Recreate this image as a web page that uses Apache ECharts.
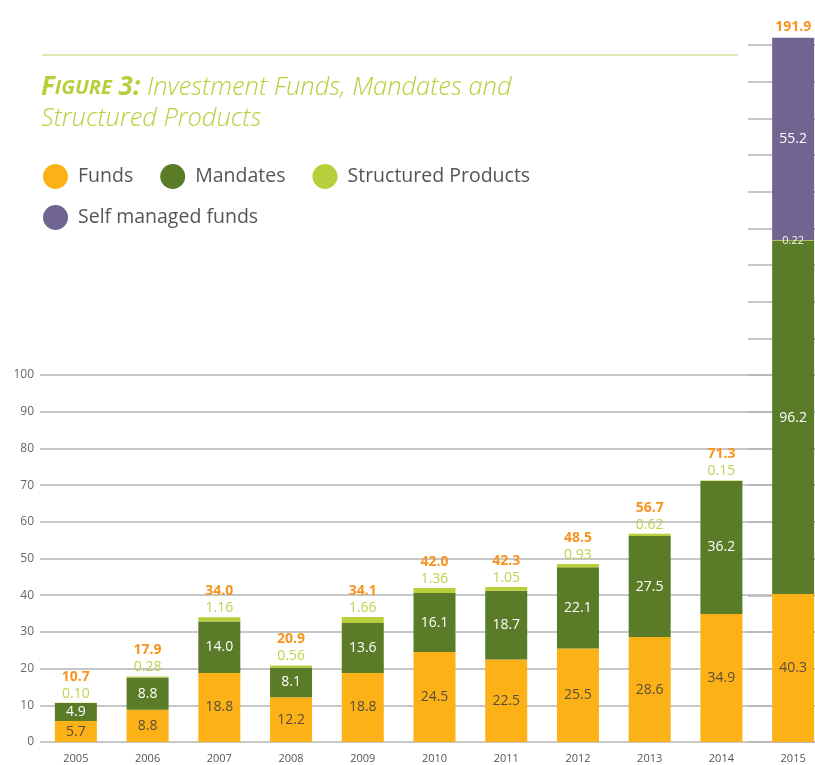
<!DOCTYPE html>
<html>
<head>
<meta charset="utf-8">
<script src="https://cdn.jsdelivr.net/npm/echarts@6/dist/echarts.min.js"></script>
<style>
  html, body { margin: 0; padding: 0; background: #fff; }
  #chart { width: 815px; height: 765px; }
</style>
</head>
<body>
<div id="chart"></div>
<script>
// data
var years = ['2005', '2006', '2007', '2008', '2009', '2010', '2011', '2012', '2013', '2014', '2015'];
var funds = [5.7, 8.8, 18.8, 12.2, 18.8, 24.5, 22.5, 25.5, 28.6, 34.9, 40.3];
var mandates = [4.9, 8.8, 14.0, 8.1, 13.6, 16.1, 18.7, 22.1, 27.5, 36.2, 96.2];
var structured = [0.10, 0.28, 1.16, 0.56, 1.66, 1.36, 1.05, 0.93, 0.62, 0.15, 0.22];
var selfManaged = [0, 0, 0, 0, 0, 0, 0, 0, 0, 0, 55.2];
var totals = [10.7, 17.9, 34.0, 20.9, 34.1, 42.0, 42.3, 48.5, 56.7, 71.3, 191.9];

var cOrange = '#fcb116', cGreen = '#5a7b27', cLight = '#b7cf3a', cPurple = '#706590', cTotal = '#f7941d';
var font = 'Open Sans';

var myChart = echarts.init(document.getElementById('chart'));

// structured label: above the bar, except 2015 where it sits in the band
var structuredData = structured.map(function(v, i) {
	if (i === years.length - 1) {
		return { value: v, label: { position: 'inside', color: '#f4f8e6', fontSize: 11 } };
	}
	return v;
});
var totalData = totals.map(function(v, i) {
	if (i === years.length - 1) {
		return { value: 0, label: { distance: 4 } };
	}
	return 0;
});

var option = {
	animation: false,
	graphic: [
		{ type: 'line', shape: { x1: 42, y1: 55, x2: 738, y2: 55 }, style: { stroke: '#d3e39a', lineWidth: 1.5 } },
		{
			type: 'text', left: 41, top: 75,
			style: {
				text: '{a|F}{b|IGURE}{a|\u00a03:}{c| Investment Funds, Mandates and}',
				rich: {
					a: { fontFamily: font, fontSize: 26, fontWeight: 'bold', fontStyle: 'italic', fill: cLight },
					b: { fontFamily: font, fontSize: 20, fontWeight: 'bold', fontStyle: 'italic', fill: cLight },
					c: { fontFamily: font, fontSize: 25.5, fontStyle: 'italic', fontWeight: 300, fill: cLight }
				}
			}
		},
		{
			type: 'text', left: 41, top: 106,
			style: { text: 'Structured Products', fontFamily: font, fontSize: 25.5, fontStyle: 'italic', fontWeight: 300, fill: cLight }
		}
	],
	legend: [
		{
			left: 43, top: 164, padding: 0, itemWidth: 25, itemHeight: 25, itemGap: 27, icon: 'circle',
			data: ['Funds', 'Mandates', 'Structured Products'],
			textStyle: { fontFamily: font, fontSize: 19.5, color: '#555', padding: [0, 0, 0, 5] },
			selectedMode: false
		},
		{
			left: 43, top: 205, padding: 0, itemWidth: 25, itemHeight: 25, icon: 'circle',
			data: ['Self managed funds'],
			textStyle: { fontFamily: font, fontSize: 19.5, color: '#555', padding: [0, 0, 0, 5] },
			selectedMode: false
		}
	],
	grid: [
		{ left: 40, width: 789, top: 375, bottom: 23, outerBoundsMode: 'none' },
		{ left: 748, width: 80, top: 45, bottom: 23, outerBoundsMode: 'none' }
	],
	xAxis: [
		{
			type: 'category', gridIndex: 0, data: years,
			axisLine: { show: false }, axisTick: { show: false },
			axisLabel: { fontFamily: font, fontSize: 11, color: '#555', margin: 11 }
		},
		{ type: 'value', gridIndex: 1, show: false, min: 0, max: 1 }
	],
	yAxis: [
		{
			type: 'value', gridIndex: 0, min: 0, max: 100, interval: 10,
			axisLine: { show: false }, axisTick: { show: false },
			axisLabel: { fontFamily: font, fontSize: 12, color: '#666', margin: 6 },
			splitLine: { lineStyle: { color: '#b5b5b5', width: 1.5 } }
		},
		{
			type: 'value', gridIndex: 1, min: 0, max: 190, interval: 10,
			axisLine: { show: false }, axisTick: { show: false }, axisLabel: { show: false },
			splitLine: { lineStyle: { color: '#b5b5b5', width: 1.5 } }
		}
	],
	series: [
		{
			name: 'Funds', type: 'bar', stack: 'all', barWidth: 42, clip: false, data: funds,
			itemStyle: { color: cOrange },
			label: { show: true, position: 'inside', fontFamily: font, fontSize: 14, color: '#5b4d3b' }
		},
		{
			name: 'Mandates', type: 'bar', stack: 'all', clip: false, data: mandates,
			itemStyle: { color: cGreen },
			label: { show: true, position: 'inside', fontFamily: font, fontSize: 14, color: '#fff',
				formatter: function(p) { return p.value.toFixed(1); } }
		},
		{
			name: 'Structured Products', type: 'bar', stack: 'all', clip: false, data: structuredData,
			itemStyle: { color: cLight },
			label: { show: true, position: 'top', distance: 2, fontFamily: font, fontSize: 14, color: '#bdd34f',
				formatter: function(p) { return p.value.toFixed(2); } }
		},
		{
			name: 'Self managed funds', type: 'bar', stack: 'all', clip: false, data: selfManaged,
			itemStyle: { color: cPurple },
			label: { show: true, position: 'inside', fontFamily: font, fontSize: 14, color: '#fff',
				formatter: function(p) { return p.value ? p.value.toFixed(1) : ''; } }
		},
		{
			name: 'Total', type: 'bar', stack: 'all', clip: false, data: totalData,
			itemStyle: { color: 'rgba(0,0,0,0)' },
			label: { show: true, position: 'top', distance: 19, fontFamily: font, fontSize: 14, fontWeight: 'bold', color: cTotal,
				formatter: function(p) { return totals[p.dataIndex].toFixed(1); } }
		}
	]
};
myChart.setOption(option);
</script>
</body>
</html>
